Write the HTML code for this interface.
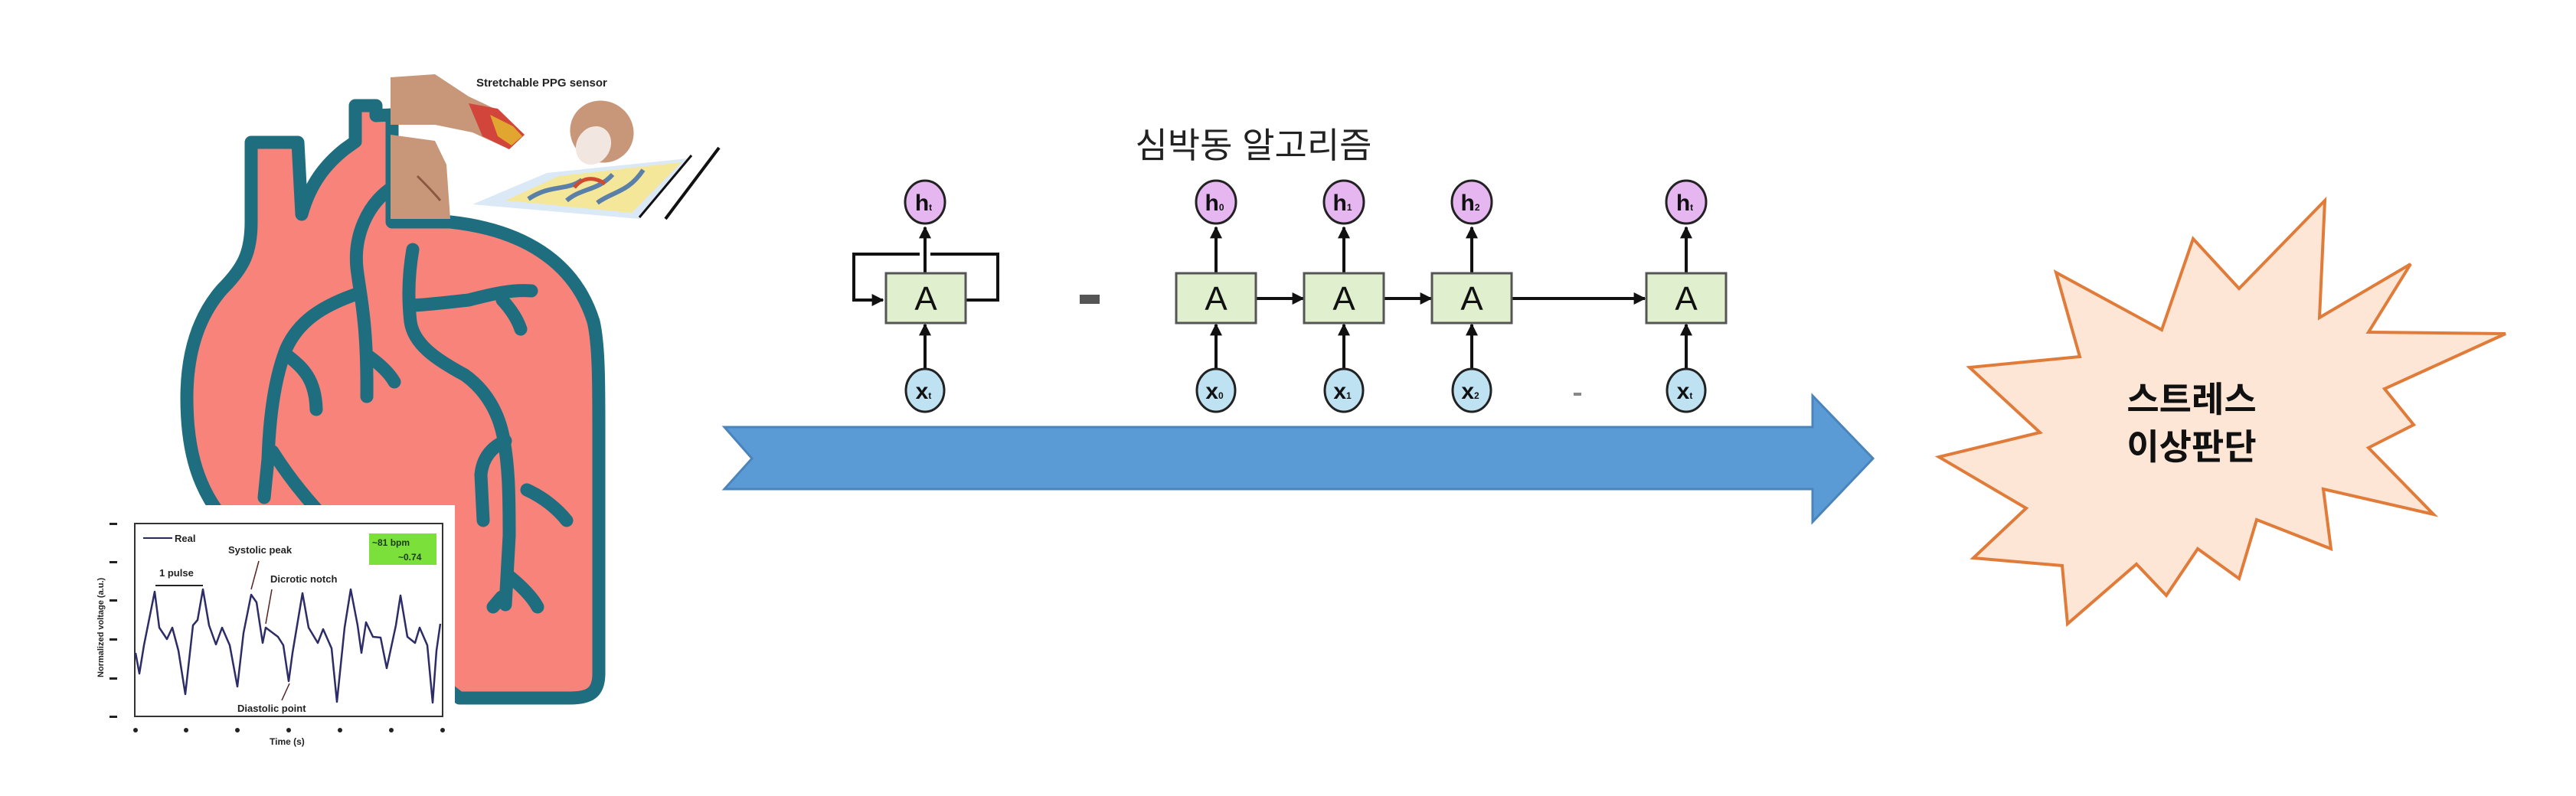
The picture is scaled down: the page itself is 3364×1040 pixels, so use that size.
<!DOCTYPE html>
<html><head><meta charset="utf-8"><style>
html,body{margin:0;padding:0;background:#fff;}
svg{display:block;}
text{font-family:"Liberation Sans","Noto Sans CJK KR",sans-serif;}
</style></head><body>
<svg width="3364" height="1040" viewBox="0 0 3364 1040" xmlns="http://www.w3.org/2000/svg">
<defs>
<marker id="ah2" viewBox="0 0 10 10" markerWidth="16" markerHeight="16" refX="9" refY="5" orient="auto" markerUnits="userSpaceOnUse">
<path d="M0,0 L10,5 L0,10 z" fill="#111"/>
</marker>
</defs>

<!-- HEART -->
<g stroke="#1e6e80" stroke-width="17" stroke-linejoin="round" stroke-linecap="round" fill="#f7837a">
<path d="M328,186 L389,186 L394,280 C405,240 425,215 450,195 L464,185 L464,138 L491,138 L491,151 L512,150 L512,290 L588,290 C680,300 750,340 775,420 C782,450 782,500 782,560 L782,880 C782,905 770,912 745,912 L600,912 L287,672 C255,630 244,580 244,520 C244,455 262,410 290,378 C318,350 328,330 328,290 Z"/>
</g>
<g stroke="#1e6e80" stroke-width="17" stroke-linejoin="round" stroke-linecap="round" fill="none">
<path d="M512,245 C478,268 462,310 466,350 C470,385 480,420 479,518"/>
<path d="M466,384 C420,400 390,420 374,455 C360,490 352,540 350,600 L345,650"/>
<path d="M376,465 C395,480 412,495 413,535"/>
<path d="M481,465 C495,475 508,487 515,499"/>
<path d="M356,590 C375,620 395,645 413,665"/>
<path d="M539,326 C534,355 532,385 536,420 C540,450 570,470 607,490 C635,510 652,540 658,575 C664,610 665,640 665,700 L660,790"/>
<path d="M660,576 C640,585 630,600 628,620 L631,680"/>
<path d="M539,399 C560,398 585,395 612,392 C640,385 665,378 694,380"/>
<path d="M656,392 C668,405 676,418 680,430"/>
<path d="M688,640 C710,650 728,665 740,680"/>
<path d="M664,752 C680,765 695,780 702,793"/>
<path d="M655,780 L644,793"/>
</g>

<!-- FINGER IMAGE -->
<g>
<polygon points="510,101 568,97 612,126 646,142 685,176 665,195 617,173 568,163 510,163" fill="#c8977a"/>
<polygon points="612,135 650,142 685,176 665,195 630,178" fill="#d2453a"/>
<polygon points="640,150 670,165 682,178 668,190 650,178" fill="#e0a630"/>
<polygon points="510,176 568,184 583,215 588,286 510,286" fill="#c8977a"/>
<path d="M545,230 C555,240 565,250 575,262" stroke="#8a5a40" stroke-width="3" fill="none"/>
<polygon points="617,267 714,226 898,207 835,286" fill="#dbe8f5"/>
<polygon points="660,262 730,230 890,212 825,278" fill="#f5e79a"/>
<path d="M690,260 C720,240 740,250 760,235 M740,262 C760,245 780,250 800,228 M780,265 C800,250 820,252 840,222" stroke="#5a7fa8" stroke-width="6" fill="none"/>
<path d="M750,245 C760,232 775,230 790,240" stroke="#d04a30" stroke-width="5" fill="none"/>
<ellipse cx="786" cy="172" rx="42" ry="40" transform="rotate(30 786 172)" fill="#c8977a"/>
<ellipse cx="775" cy="190" rx="22" ry="26" transform="rotate(30 775 190)" fill="#f1e6e0"/>
<line x1="835" y1="284" x2="903" y2="203" stroke="#111" stroke-width="3"/>
<line x1="869" y1="286" x2="939" y2="193" stroke="#111" stroke-width="4"/>
<text x="622" y="113" font-size="15" font-weight="bold" fill="#222">Stretchable PPG sensor</text>
</g>

<!-- GRAPH -->
<rect x="124" y="660" width="470" height="325" fill="#fff"/>
<rect x="176" y="684" width="402" height="252" fill="none" stroke="#333" stroke-width="2"/>
<g fill="#222">
<rect x="143" y="683" width="10" height="3"/><rect x="143" y="733" width="10" height="3"/><rect x="143" y="783" width="10" height="3"/>
<rect x="143" y="834" width="10" height="3"/><rect x="143" y="885" width="10" height="3"/><rect x="143" y="935" width="10" height="3"/>
<circle cx="177" cy="954" r="3"/><circle cx="243" cy="954" r="3"/><circle cx="310" cy="954" r="3"/><circle cx="377" cy="954" r="3"/><circle cx="444" cy="954" r="3"/><circle cx="511" cy="954" r="3"/><circle cx="578" cy="954" r="3"/>
<text x="352" y="973" font-size="12" font-weight="bold">Time (s)</text>
<text x="135" y="885" font-size="11" font-weight="bold" transform="rotate(-90 135 885)">Normalized voltage (a.u.)</text>
<line x1="187" y1="703" x2="225" y2="703" stroke="#2a2a5a" stroke-width="2"/>
<text x="228" y="708" font-size="13" font-weight="bold">Real</text>
<text x="298" y="723" font-size="13" font-weight="bold">Systolic peak</text>
<text x="353" y="761" font-size="13" font-weight="bold">Dicrotic notch</text>
<text x="310" y="930" font-size="13" font-weight="bold">Diastolic point</text>
<text x="208" y="753" font-size="13" font-weight="bold">1 pulse</text>
<line x1="203" y1="765" x2="265" y2="765" stroke="#222" stroke-width="2"/>
<line x1="338" y1="733" x2="328" y2="770" stroke="#552222" stroke-width="1.5"/>
<line x1="355" y1="770" x2="347" y2="815" stroke="#552222" stroke-width="1.5"/>
<line x1="378" y1="893" x2="368" y2="915" stroke="#552222" stroke-width="1.5"/>
</g>
<rect x="482" y="697" width="88" height="41" fill="#7be03a"/>
<text x="486" y="713" font-size="12" font-weight="bold" fill="#1a3a10">~81 bpm</text>
<text x="520" y="732" font-size="12" font-weight="bold" fill="#1a3a10">~0.74</text>
<polyline fill="none" stroke="#2c2c66" stroke-width="2.5" stroke-linejoin="round" points="177,853 182,880 188,843 202,773 208,820 218,835 225,820 233,850 242,907 252,817 258,810 265,770 273,817 282,842 290,820 300,843 310,897 318,827 328,777 335,787 340,820 343,840 347,820 363,832 370,843 377,890 382,853 395,775 403,820 415,840 422,822 433,847 440,917 450,820 458,770 467,817 472,853 478,813 487,832 497,833 505,873 517,817 523,778 532,832 542,840 548,820 558,843 565,918 570,850 575,815"/>

<!-- TITLE -->
<text x="1637" y="206" font-size="46" text-anchor="middle" fill="#222">심박동 알고리즘</text>

<!-- RNN -->
<g stroke="#111" stroke-width="4" fill="none">
<path d="M1208,357 L1208,297" marker-end="url(#ah2)"/>
<path d="M1208,490 L1208,424" marker-end="url(#ah2)"/>
<path d="M1261,392 L1303,392 L1303,332 L1215,332 M1201,332 L1115,332 L1115,392 L1153,392" marker-end="url(#ah2)"/>
</g>
<g stroke="#111" stroke-width="4" fill="none">
<path d="M1588,357 L1588,297" marker-end="url(#ah2)"/><path d="M1588,482 L1588,424" marker-end="url(#ah2)"/>
<path d="M1755,357 L1755,297" marker-end="url(#ah2)"/><path d="M1755,482 L1755,424" marker-end="url(#ah2)"/>
<path d="M1922,357 L1922,297" marker-end="url(#ah2)"/><path d="M1922,482 L1922,424" marker-end="url(#ah2)"/>
<path d="M2202,357 L2202,297" marker-end="url(#ah2)"/><path d="M2202,482 L2202,424" marker-end="url(#ah2)"/>
<path d="M1640,390 L1702,390" marker-end="url(#ah2)"/>
<path d="M1807,390 L1869,390" marker-end="url(#ah2)"/>
<path d="M1974,390 L2148,390" marker-end="url(#ah2)"/>
</g>
<g fill="#e0f0cf" stroke="#555" stroke-width="3">
<rect x="1157" y="357" width="104" height="65"/>
<rect x="1536" y="357" width="104" height="65"/>
<rect x="1703" y="357" width="104" height="65"/>
<rect x="1870" y="357" width="104" height="65"/>
<rect x="2150" y="357" width="104" height="65"/>
</g>
<g font-size="44" text-anchor="middle" fill="#111">
<text x="1209" y="405">A</text><text x="1588" y="405">A</text><text x="1755" y="405">A</text><text x="1922" y="405">A</text><text x="2202" y="405">A</text>
</g>
<g fill="#e6b6f0" stroke="#222" stroke-width="3">
<ellipse cx="1208" cy="264" rx="26" ry="28"/><ellipse cx="1588" cy="264" rx="26" ry="28"/><ellipse cx="1755" cy="264" rx="26" ry="28"/><ellipse cx="1922" cy="264" rx="26" ry="28"/><ellipse cx="2202" cy="264" rx="26" ry="28"/>
</g>
<g fill="#bfe2f2" stroke="#222" stroke-width="3">
<ellipse cx="1208" cy="510" rx="25" ry="28"/><ellipse cx="1588" cy="510" rx="25" ry="28"/><ellipse cx="1755" cy="510" rx="25" ry="28"/><ellipse cx="1922" cy="510" rx="25" ry="28"/><ellipse cx="2202" cy="510" rx="25" ry="28"/>
</g>
<g font-size="30" text-anchor="middle" fill="#111" font-weight="bold">
<text x="1206" y="275">h<tspan font-size="12">t</tspan></text><text x="1586" y="275">h<tspan font-size="12">0</tspan></text><text x="1753" y="275">h<tspan font-size="12">1</tspan></text><text x="1920" y="275">h<tspan font-size="12">2</tspan></text><text x="2200" y="275">h<tspan font-size="12">t</tspan></text>
<text x="1206" y="521">x<tspan font-size="12">t</tspan></text><text x="1586" y="521">x<tspan font-size="12">0</tspan></text><text x="1753" y="521">x<tspan font-size="12">1</tspan></text><text x="1920" y="521">x<tspan font-size="12">2</tspan></text><text x="2200" y="521">x<tspan font-size="12">t</tspan></text>
</g>
<rect x="1410" y="385" width="26" height="12" fill="#555"/>
<rect x="2055" y="513" width="10" height="4" fill="#888"/>

<!-- BIG ARROW -->
<polygon points="946,558 2367,558 2367,517 2446,599 2367,682 2367,639 946,639 982,599" fill="#5b9bd5" stroke="#4a84ba" stroke-width="3"/>

<!-- STARBURST -->
<polygon points="2685,356 2823,431 2864,312 2924,377 3036,262 3029,415 3148,345 3093,434 3272,436 3114,508 3152,555 3093,585 3178,672 3034,639 3044,717 2947,679 2924,756 2870,717 2829,778 2790,737 2700,815 2693,739 2577,729 2646,664 2532,597 2664,565 2572,480 2716,466" fill="#fde6d6" stroke="#e07b39" stroke-width="4" stroke-linejoin="miter"/>
<text x="2862" y="538" font-size="46" font-weight="bold" text-anchor="middle" fill="#111">스트레스</text>
<text x="2862" y="600" font-size="46" font-weight="bold" text-anchor="middle" fill="#111">이상판단</text>
</svg>
</body></html>
